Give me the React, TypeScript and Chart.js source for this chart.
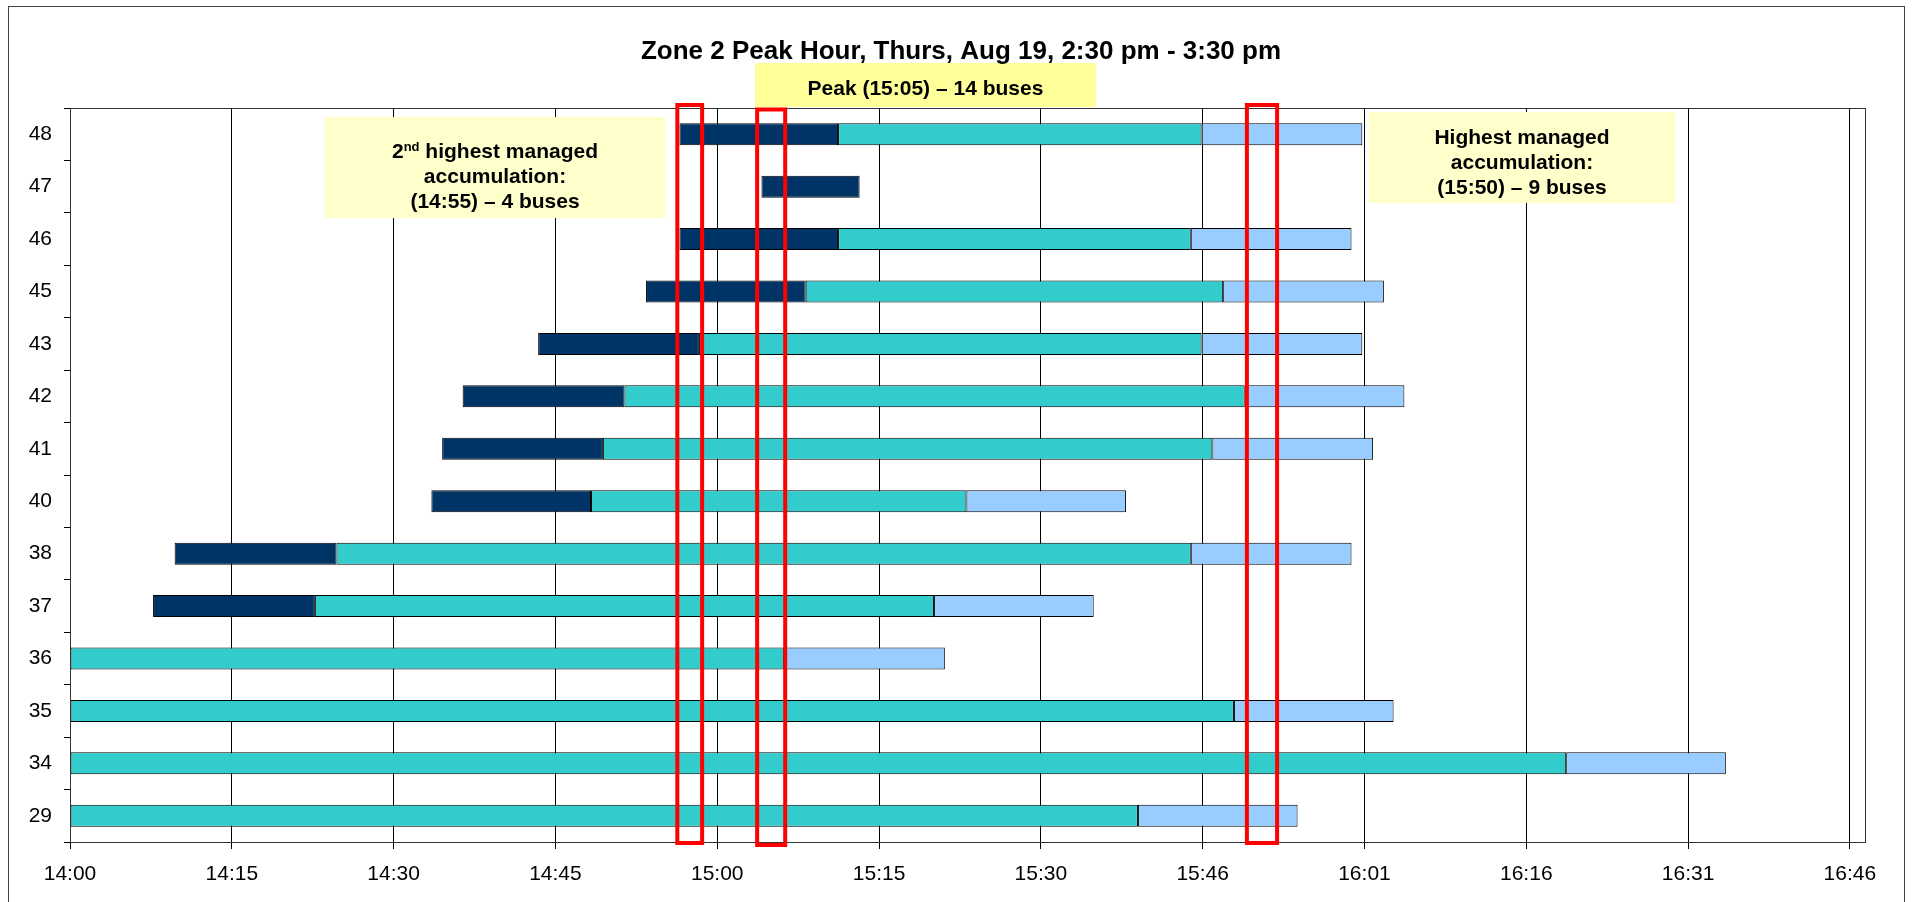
import React, { useEffect, useRef } from 'react';
import { Chart, registerables } from 'chart.js';

Chart.register(...registerables);

// ---------- data (minutes after 14:00) ----------
const categories = ['48', '47', '46', '45', '43', '42', '41', '40', '38', '37', '36', '35', '34', '29'];

const darkBars: ([number, number] | null)[] = [
  [56.5, 71.2], [64.1, 73.2], [56.5, 71.2], [53.4, 68.2], [43.4, 58.3], [36.4, 51.4], [34.5, 49.4],
  [33.5, 48.3], [9.7, 24.7], [7.7, 22.7], null, null, null, null,
];
const tealBars: ([number, number] | null)[] = [
  [71.2, 104.9], null, [71.2, 103.9], [68.2, 106.9], [58.3, 104.9], [51.4, 108.9], [49.4, 105.9],
  [48.3, 83.1], [24.7, 103.9], [22.7, 80.1], [0, 66.2], [0, 107.9], [0, 138.7], [0, 99.0],
];
const lightBars: ([number, number] | null)[] = [
  [104.9, 119.8], null, [103.9, 118.8], [106.9, 121.8], [104.9, 119.8], [108.9, 123.7], [105.9, 120.8],
  [83.1, 97.9], [103.9, 118.8], [80.1, 94.9], [66.2, 81.1], [107.9, 122.7], [138.7, 153.5], [99.0, 113.8],
];

const xTickValues = [0, 15, 30, 45, 60, 75, 90, 105, 120, 135, 150, 165];
const xTickLabels = ['14:00', '14:15', '14:30', '14:45', '15:00', '15:15', '15:30', '15:46', '16:01', '16:16', '16:31', '16:46'];
const xMax = 166.4;

// highlighted time windows (minutes after 14:00)
const redFrom = [56.3, 63.7, 109.1];
const redTo = [58.6, 66.3, 111.9];

const titleText = 'Zone 2 Peak Hour, Thurs, Aug 19, 2:30 pm - 3:30 pm';

type Seg = { t: string; sup?: boolean };
const noteLines: Seg[][][] = [
  [[{ t: '2' }, { t: 'nd', sup: true }, { t: ' highest managed' }], [{ t: 'accumulation:' }], [{ t: '(14:55) \u2013 4 buses' }]],
  [[{ t: 'Peak (15:05) \u2013 14 buses' }]],
  [[{ t: 'Highest managed' }], [{ t: 'accumulation:' }], [{ t: '(15:50) \u2013 9 buses' }]],
];
const noteFrom = [23.6, 63.5, 120.4];
const noteTo = [55.2, 95.1, 148.8];

// ---------- layout / style ----------
const W = 1915;
const H = 902;
const FONT = '"Liberation Sans", Arial, sans-serif';
const noteLayout = [
  { top: 117, bottom: 218, fill: '#FFFFCC', baselines: [158, 183, 208] },
  { top: 63, bottom: 107, fill: '#FFFF99', baselines: [95] },
  { top: 112, bottom: 203, fill: '#FFFFCC', baselines: [144, 169, 194] },
];
const redLayout = [
  { top: -3, bottom: 1 },
  { top: 1.5, bottom: 3 },
  { top: -3, bottom: 1 },
];

const overlay = {
  id: 'overlay',
  afterDatasetsDraw(chart: any) {
    const ctx: CanvasRenderingContext2D = chart.ctx;
    const { chartArea } = chart;
    const xs = chart.scales.x;
    ctx.save();
    // plot frame
    ctx.strokeStyle = '#333';
    ctx.lineWidth = 1;
    ctx.strokeRect(Math.round(chartArea.left) + 0.5, Math.round(chartArea.top) + 0.5,
      Math.round(chartArea.right - chartArea.left), Math.round(chartArea.bottom - chartArea.top));
    // outer frame
    ctx.strokeStyle = '#444';
    ctx.strokeRect(8.5, 6.5, 1896, 1000);

    // notes
    const noteFont = 21;
    noteLines.forEach((lines, i) => {
      const lay = noteLayout[i];
      const x0 = xs.getPixelForValue(noteFrom[i]);
      const x1 = xs.getPixelForValue(noteTo[i]);
      ctx.fillStyle = lay.fill;
      ctx.fillRect(x0, lay.top, x1 - x0, lay.bottom - lay.top);
      const cx = (x0 + x1) / 2;
      ctx.fillStyle = '#000';
      ctx.textBaseline = 'alphabetic';
      ctx.textAlign = 'left';
      lines.forEach((segs, li) => {
        const widths = segs.map((s) => {
          ctx.font = `bold ${s.sup ? Math.round(noteFont * 0.62) : noteFont}px ${FONT}`;
          return ctx.measureText(s.t).width;
        });
        const total = widths.reduce((a, b) => a + b, 0);
        let x = cx - total / 2;
        const base = lay.baselines[li];
        segs.forEach((s, si) => {
          ctx.font = `bold ${s.sup ? Math.round(noteFont * 0.62) : noteFont}px ${FONT}`;
          ctx.fillText(s.t, x, s.sup ? base - 7 : base);
          x += widths[si];
        });
      });
    });

    // red highlight boxes
    ctx.strokeStyle = '#FF0000';
    ctx.lineWidth = 4;
    redFrom.forEach((f, i) => {
      const x0 = xs.getPixelForValue(f);
      const x1 = xs.getPixelForValue(redTo[i]);
      const y0 = chartArea.top + redLayout[i].top;
      const y1 = chartArea.bottom + redLayout[i].bottom;
      ctx.strokeRect(x0, y0, x1 - x0, y1 - y0);
    });

    // title
    ctx.fillStyle = '#000';
    ctx.font = `bold 26px ${FONT}`;
    ctx.textAlign = 'center';
    ctx.textBaseline = 'alphabetic';
    ctx.fillText(titleText, 961, 59);
    ctx.restore();
  },
};

export default function App() {
  const ref = useRef<HTMLCanvasElement>(null);
  useEffect(() => {
    const canvas = ref.current!;
    const common = {
      borderColor: '#000',
      borderWidth: 1,
      borderSkipped: false as const,
      grouped: false,
      barPercentage: 0.42,
      categoryPercentage: 1,
    };
    const tickFont = { family: FONT, size: 21 };
    const chart = new Chart(canvas, {
      type: 'bar',
      data: {
        labels: categories,
        datasets: [
          { label: 'Waiting', data: darkBars as any, backgroundColor: '#003366', ...common },
          { label: 'Dwell', data: tealBars as any, backgroundColor: '#33CCCC', ...common },
          { label: 'Departure', data: lightBars as any, backgroundColor: '#99CCFF', ...common },
        ],
      },
      options: {
        indexAxis: 'y',
        responsive: false,
        animation: false,
        devicePixelRatio: 1,
        layout: { padding: { left: 0, right: 50, top: 108, bottom: 0 } },
        plugins: { legend: { display: false }, tooltip: { enabled: false }, title: { display: false } },
        scales: {
          x: {
            type: 'linear',
            min: 0,
            max: xMax,
            afterBuildTicks: (s: any) => {
              s.ticks = xTickValues.map((v) => ({ value: v }));
            },
            afterFit: (s: any) => {
              s.height = 60;
            },
            ticks: {
              callback: (v: any) => xTickLabels[xTickValues.indexOf(Number(v))] ?? '',
              font: tickFont,
              color: '#000',
              padding: 13,
              maxRotation: 0,
              autoSkip: false,
            },
            grid: { color: '#000', tickLength: 7, lineWidth: 1 },
            border: { color: '#000' },
          },
          y: {
            type: 'category',
            afterFit: (s: any) => {
              s.width = 70;
            },
            ticks: { font: tickFont, color: '#000', padding: 12, autoSkip: false },
            grid: { offset: true, drawOnChartArea: false, tickLength: 6, color: '#000' },
            border: { color: '#000' },
          },
        },
      },
      plugins: [overlay],
    });
    return () => chart.destroy();
  }, []);
  return (
    <div style={{ position: 'absolute', left: 0, top: 0, width: W, height: H, background: '#fff', overflow: 'hidden' }}>
      <canvas ref={ref} width={W} height={H} style={{ display: 'block', width: W, height: H }} />
    </div>
  );
}
